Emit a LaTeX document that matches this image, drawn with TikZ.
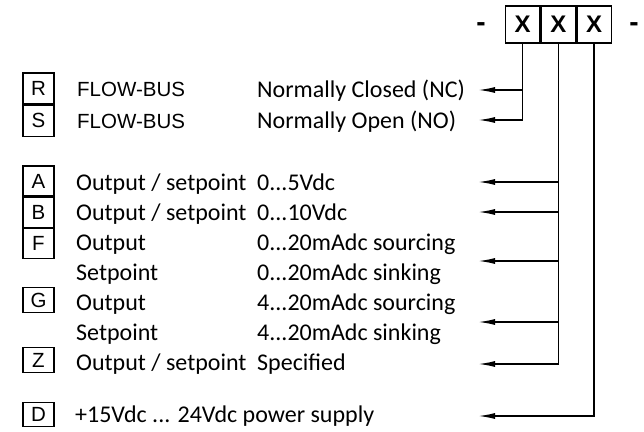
\documentclass[tikz,border=0pt]{standalone}
\usepackage{fontspec}
\setmainfont{Carlito}
\newfontfamily\arialfont{Liberation Sans}
\usetikzlibrary{arrows.meta,positioning}
\tikzset{
  >={Latex[length=17pt,width=6pt]},
  conn/.style={->, line width=1.6pt},
  key/.style={draw, line width=1.3pt, minimum width=31pt, minimum height=30pt, inner sep=0pt, font=\arialfont\fontsize{20.5}{24}\selectfont},
  keysingle/.style={key, minimum height=24.5pt},
  xbox/.style={draw, line width=1.3pt, minimum width=34.5pt, minimum height=37pt, inner sep=0pt, font=\arialfont\bfseries\fontsize{24}{28}\selectfont},
  hyph/.style={inner sep=0pt, font=\arialfont\bfseries\fontsize{28}{32}\selectfont},
  lbl/.style={anchor=base west, inner sep=0pt, font=\fontsize{24}{28}\selectfont},
  albl/.style={anchor=base west, inner sep=0pt, font=\arialfont\fontsize{20.5}{24}\selectfont},
}
\begin{document}
\begin{tikzpicture}[x=1pt, y=-1pt]
  \useasboundingbox (0,0) rectangle (644,431);

  % order code
  \node[hyph] (dl) at (481,27) {-};
  \node[xbox] (x1) at (522.5,24.5) {X};
  \node[xbox, right=0pt of x1] (x2) {X};
  \node[xbox, right=0pt of x2] (x3) {X};
  \node[hyph] (dr) at (634,27) {-};

  % option keys
  \node[key, minimum height=31pt] (kR) at (38.5,88.5) {R};
  \node[key, minimum height=31pt, below=0pt of kR] (kS) {S};
  \node[key] (kA) at (38.5,181) {A};
  \node[key, below=0pt of kA] (kB) {B};
  \node[key, below=0pt of kB] (kF) {F};
  \node[keysingle] (kG) at (38.5,300) {G};
  \node[keysingle] (kZ) at (38.5,360) {Z};
  \node[keysingle] (kD) at (38.5,414.5) {D};

  % descriptions
  \node[albl] (tR) at (77,96.5) {FLOW-BUS};
  \node[albl] (tS) at (77,128) {FLOW-BUS};
  \node[lbl] (vR) at (257,97) {Normally Closed (NC)};
  \node[lbl] (vS) at (257,128) {Normally Open (NO)};

  \node[lbl] (tA) at (76,190) {Output / setpoint};
  \node[lbl] (tB) at (76,220) {Output / setpoint};
  \node[lbl] (tF) at (76,250) {Output};
  \node[lbl] (tF2) at (76,280) {Setpoint};
  \node[lbl] (tG) at (76,310) {Output};
  \node[lbl] (tG2) at (76,340) {Setpoint};
  \node[lbl] (tZ) at (76,370) {Output / setpoint};
  \node[lbl] (vA) at (257,190) {0...5Vdc};
  \node[lbl] (vB) at (257,220) {0...10Vdc};
  \node[lbl] (vF) at (257,250) {0...20mAdc sourcing};
  \node[lbl] (vF2) at (257,280) {0...20mAdc sinking};
  \node[lbl] (vG) at (257,310) {4...20mAdc sourcing};
  \node[lbl] (vG2) at (257,340) {4...20mAdc sinking};
  \node[lbl] (vZ) at (257,370) {Specified};
  \node[lbl] (tD) at (75,422.5) {+15Vdc ... 24Vdc power supply};

  % arrow ends
  \coordinate (aR) at (478,90);
  \coordinate (aS) at (478,120);
  \coordinate (aA) at (478,182);
  \coordinate (aB) at (478,212);
  \coordinate (aF) at (478,261);
  \coordinate (aG) at (478,322);
  \coordinate (aZ) at (478,364);
  \coordinate (aD) at (478,416);

  \draw[conn] (x1.south) |- (aR);
  \draw[conn] (x1.south) |- (aS);
  \draw[conn] (x2.south) |- (aA);
  \draw[conn] (x2.south) |- (aB);
  \draw[conn] (x2.south) |- (aF);
  \draw[conn] (x2.south) |- (aG);
  \draw[conn] (x2.south) |- (aZ);
  \draw[conn] (x3.south) |- (aD);
\end{tikzpicture}
\end{document}
